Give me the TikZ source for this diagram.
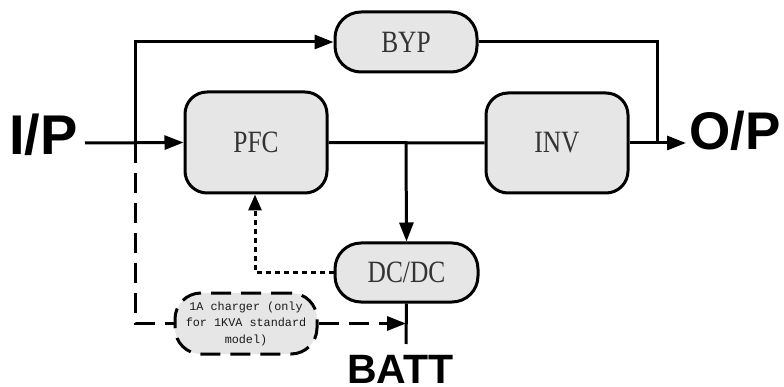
\documentclass[tikz,border=0pt]{standalone}
\usepackage{fontspec}
\setmainfont{Liberation Serif}
\newfontfamily\boldsans{Liberation Sans}
\newfontfamily\monof{Liberation Mono}
\usetikzlibrary{arrows.meta}
\definecolor{boxfill}{HTML}{E6E6E6}
\newcommand\blab[1]{\scalebox{0.82}[1]{\fontsize{31}{31}\selectfont #1}}
\begin{document}
\begin{tikzpicture}[x=1pt,y=-1pt,
  blk/.style={draw=black,line width=3pt,fill=boxfill,rectangle,inner sep=0pt,text=black!80},
  wire/.style={line width=3pt},
  arr/.style={wire,-{Triangle[length=19pt,width=14pt]}},
  big/.style={font=\boldsans\bfseries\fontsize{56}{56}\selectfont,inner sep=0pt}]
\useasboundingbox (0,0) rectangle (784,387);
\node[blk,rounded corners=26pt,minimum width=142pt,minimum height=60pt] (byp) at (406,42) {\blab{BYP}};
\node[blk,rounded corners=22pt,minimum width=142pt,minimum height=101pt] (pfc) at (256,142.5) {\blab{PFC}};
\node[blk,rounded corners=22pt,minimum width=142pt,minimum height=100pt] (inv) at (557,143) {\blab{INV}};
\node[blk,rounded corners=26pt,minimum width=143pt,minimum height=59pt] (dcdc) at (406.5,272.5) {\blab{DC/DC}};
\node[blk,dash pattern=on 20pt off 10pt,rounded corners=26pt,minimum width=142pt,minimum height=61pt,align=center,font=\monof\fontsize{11.8}{16.5}\selectfont,text=black!90] (chg) at (246,323.5) {1A charger (only\\for 1KVA standard\\model)};
\node[big,anchor=base west] (ip) at (9,155) {I/P};
\node[big,font=\boldsans\bfseries\fontsize{53}{53}\selectfont,anchor=base west] (op) at (689,150) {O/P};
\node[big,font=\boldsans\bfseries\fontsize{41}{41}\selectfont,anchor=base west] (batt) at (347,383) {BATT};
\coordinate (in) at (85,143);
\coordinate (split) at (135,143);
\coordinate (tl) at (135,42);
\coordinate (tr) at (657,42);
\coordinate (mr) at (657,143);
\coordinate (out) at (686,143);
\coordinate (junc) at (406,143);
\coordinate (dl) at (255,272.5);
\coordinate (bl) at (135,323.5);
\coordinate (chgend) at (406,323.5);
\coordinate (battend) at (406,344);
\draw[arr] (in) -- (pfc.west);
\draw[arr] (split) -- (tl) -- (byp.west);
\draw[wire] (byp.east) -- (tr) -- (mr);
\draw[wire] (pfc.east) -- (inv.west);
\draw[arr] (inv.east) -- (out);
\draw[arr] (junc) -- (dcdc.north);
\draw[wire,-{Triangle[length=16pt,width=13pt]},dash pattern=on 5pt off 4pt] (dcdc.west) -- (dl) -- (dl |- pfc.south);
\draw[wire,dash pattern=on 20pt off 10pt] (split) -- (bl) -- (chg.west);
\draw[arr,dash pattern=on 20pt off 10pt] (chg.east) -- (chgend);
\draw[wire] (dcdc.south) -- (battend);
\end{tikzpicture}
\end{document}
